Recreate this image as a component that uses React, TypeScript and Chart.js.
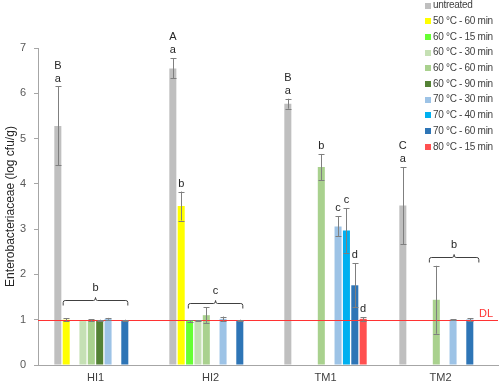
import React, { useEffect, useRef } from "react";
import { Chart, registerables } from "chart.js";

Chart.register(...registerables);

const categories = ["HI1", "HI2", "TM1", "TM2"];

const seriesLabels = [
  "untreated",
  "50 °C - 60 min",
  "60 °C - 15 min",
  "60 °C - 30 min",
  "60 °C - 60 min",
  "60 °C - 90 min",
  "70 °C - 30 min",
  "70 °C - 40 min",
  "70 °C - 60 min",
  "80 °C - 15 min",
];

const seriesColors = [
  "#bfbfbf",
  "#ffff00",
  "#66ff33",
  "#c5e0b4",
  "#a9d18e",
  "#548235",
  "#9dc3e6",
  "#00b0f0",
  "#2e75b6",
  "#ff5050",
];

const untreated = [5.28, 6.55, 5.77, 3.52];
const t50_60 = [1.0, 3.51, null, null];
const t60_15 = [null, 0.97, null, null];
const t60_30 = [0.97, 0.98, null, null];
const t60_60 = [0.99, 1.1, 4.37, 1.44];
const t60_90 = [0.99, null, null, null];
const t70_30 = [1.02, 1.02, 3.06, 1.0];
const t70_40 = [null, null, 2.97, null];
const t70_60 = [0.99, 0.99, 1.76, 1.0];
const t80_15 = [null, null, 1.02, null];

const untreatedErr = [0.87, 0.22, 0.11, 0.85];
const t50_60Err = [0.03, 0.32, 0, 0];
const t60_15Err = [0, 0.02, 0, 0];
const t60_30Err = [0, 0.01, 0, 0];
const t60_60Err = [0.02, 0.17, 0.29, 0.75];
const t60_90Err = [0.01, 0, 0, 0];
const t70_30Err = [0.02, 0.05, 0.22, 0.01];
const t70_40Err = [0, 0, 0.49, 0];
const t70_60Err = [0.01, 0.01, 0.49, 0.03];
const t80_15Err = [0, 0, 0.04, 0];

const untreatedUpper = ["B", "A", "B", "C"];
const untreatedLetters = ["a", "a", "a", "a"];
const t50_60Letters = ["", "b", "", ""];
const t60_60Letters = ["", "", "b", ""];
const t70_30Letters = ["", "", "c", ""];
const t70_40Letters = ["", "", "c", ""];
const t70_60Letters = ["", "", "d", ""];
const t80_15Letters = ["", "", "d", ""];
const emptyLetters = ["", "", "", ""];

const bracketCats = [0, 1, 3];
const bracketFrom = [0.64, 1.85, 3.17];
const bracketTo = [8.36, 8.36, 9.08];
const bracketY = [1.44, 1.38, 2.39];
const bracketLetters = ["b", "c", "b"];

const detectionLimit = 1;
const detectionLabel = "DL";

const yTitle = "Enterobacteriaceae (log cfu/g)";

const seriesValues = [untreated, t50_60, t60_15, t60_30, t60_60, t60_90, t70_30, t70_40, t70_60, t80_15];
const seriesErrors = [untreatedErr, t50_60Err, t60_15Err, t60_30Err, t60_60Err, t60_90Err, t70_30Err, t70_40Err, t70_60Err, t80_15Err];
const seriesLetters = [
  untreatedLetters,
  t50_60Letters,
  emptyLetters,
  emptyLetters,
  t60_60Letters,
  emptyLetters,
  t70_30Letters,
  t70_40Letters,
  t70_60Letters,
  t80_15Letters,
];

const FONT = '"Liberation Sans", Arial, sans-serif';
const CAT_PCT = 0.728;
const BAR_PCT = 0.84;

const overlayPlugin = {
  id: "overlay",
  afterDatasetsDraw(chart: any) {
    const ctx = chart.ctx;
    const ys = chart.scales.y;
    const xs = chart.scales.x;
    const area = chart.chartArea;
    ctx.save();

    // detection limit line
    const yDL = ys.getPixelForValue(detectionLimit);
    ctx.strokeStyle = "#ff3333";
    ctx.lineWidth = 1;
    ctx.beginPath();
    ctx.moveTo(area.left, Math.round(yDL) + 0.5);
    ctx.lineTo(area.right, Math.round(yDL) + 0.5);
    ctx.stroke();
    ctx.fillStyle = "#ff3333";
    ctx.font = `11px ${FONT}`;
    ctx.textAlign = "center";
    ctx.textBaseline = "bottom";
    ctx.fillText(detectionLabel, area.right - 12, yDL);

    // error bars and letters
    ctx.font = `11px ${FONT}`;
    seriesValues.forEach((vals, di) => {
      const meta = chart.getDatasetMeta(di);
      vals.forEach((v, ci) => {
        if (v === null || v === undefined) return;
        const el = meta.data[ci];
        if (!el) return;
        const x = Math.round(el.x) + 0.5;
        const e = seriesErrors[di][ci] || 0;
        const yTop = ys.getPixelForValue(v + e);
        const yBot = ys.getPixelForValue(v - e);
        if (e > 0) {
          ctx.strokeStyle = "#7f7f7f";
          ctx.lineWidth = 1;
          ctx.beginPath();
          ctx.moveTo(x, yTop);
          ctx.lineTo(x, yBot);
          ctx.moveTo(x - 3, Math.round(yTop) + 0.5);
          ctx.lineTo(x + 3, Math.round(yTop) + 0.5);
          ctx.moveTo(x - 3, Math.round(yBot) + 0.5);
          ctx.lineTo(x + 3, Math.round(yBot) + 0.5);
          ctx.stroke();
        }
        const letter = seriesLetters[di][ci];
        ctx.fillStyle = "#262626";
        ctx.textAlign = "center";
        ctx.textBaseline = "middle";
        if (letter) ctx.fillText(letter, el.x, yTop - 8);
        if (di === 0 && untreatedUpper[ci]) ctx.fillText(untreatedUpper[ci], el.x, yTop - 21);
      });
    });

    // brackets
    const pitch = ((xs.width / categories.length) * CAT_PCT) / seriesValues.length;
    bracketCats.forEach((ci, bi) => {
      const cx = xs.getPixelForValue(ci);
      const x1 = cx + (bracketFrom[bi] - 4.5) * pitch;
      const x2 = cx + (bracketTo[bi] - 4.5) * pitch;
      const xm = (x1 + x2) / 2;
      const y = Math.round(ys.getPixelForValue(bracketY[bi])) + 0.5;
      ctx.strokeStyle = "#404040";
      ctx.lineWidth = 1;
      ctx.beginPath();
      ctx.moveTo(x1, y + 5);
      ctx.lineTo(x1, y + 2);
      ctx.quadraticCurveTo(x1, y, x1 + 2, y);
      ctx.lineTo(xm - 2, y);
      ctx.quadraticCurveTo(xm, y, xm, y - 3);
      ctx.quadraticCurveTo(xm, y, xm + 2, y);
      ctx.lineTo(x2 - 2, y);
      ctx.quadraticCurveTo(x2, y, x2, y + 2);
      ctx.lineTo(x2, y + 5);
      ctx.stroke();
      ctx.fillStyle = "#262626";
      ctx.textAlign = "center";
      ctx.textBaseline = "middle";
      ctx.fillText(bracketLetters[bi], xm, y - 13);
    });

    // legend
    ctx.font = `10px ${FONT}`;
    try {
      (ctx as any).letterSpacing = "-0.3px";
    } catch (e) {}
    ctx.textAlign = "left";
    ctx.textBaseline = "middle";
    seriesLabels.forEach((lab, i) => {
      const yy = 5.5 + i * 15.7;
      ctx.fillStyle = seriesColors[i];
      ctx.fillRect(425, Math.round(yy - 3), 6, 6);
      ctx.fillStyle = "#404040";
      ctx.fillText(lab, 433, yy);
    });
    try {
      (ctx as any).letterSpacing = "0px";
    } catch (e) {}

    ctx.restore();
  },
};

export default function App() {
  const ref = useRef<HTMLCanvasElement | null>(null);
  useEffect(() => {
    document.body.style.margin = "0";
    const canvas = ref.current;
    if (!canvas) return;
    const chart = new Chart(canvas, {
      type: "bar",
      data: {
        labels: categories,
        datasets: seriesValues.map((vals, i) => ({
          label: seriesLabels[i],
          data: vals as any,
          backgroundColor: seriesColors[i],
          borderWidth: 0,
          categoryPercentage: CAT_PCT,
          barPercentage: BAR_PCT,
        })),
      },
      options: {
        animation: false,
        responsive: false,
        maintainAspectRatio: false,
        layout: { padding: { top: 48, right: 2, left: 0, bottom: 0 } },
        plugins: {
          legend: { display: false },
          tooltip: { enabled: false },
          title: { display: false },
        },
        scales: {
          x: {
            grid: { display: false, drawTicks: false },
            border: { display: true, color: "#a6a6a6" },
            ticks: { color: "#404040", font: { size: 11, family: FONT }, padding: 6 },
            afterFit: (s: any) => {
              s.height = 19;
            },
          },
          y: {
            min: 0,
            max: 7,
            grid: { drawOnChartArea: false, drawTicks: true, tickLength: 4, color: "#a6a6a6" },
            border: { display: true, color: "#a6a6a6" },
            ticks: { stepSize: 1, color: "#595959", font: { size: 11, family: FONT }, padding: 8 },
            title: {
              display: true,
              text: yTitle,
              color: "#262626",
              font: { size: 12, family: FONT },
              padding: { top: 3, bottom: 0 },
            },
            afterFit: (s: any) => {
              s.width = 38;
            },
          },
        },
      },
      plugins: [overlayPlugin],
    });
    return () => chart.destroy();
  }, []);
  return (
    <div style={{ width: 500, height: 384 }}>
      <canvas ref={ref} width={500} height={384} style={{ display: "block" }} />
    </div>
  );
}
